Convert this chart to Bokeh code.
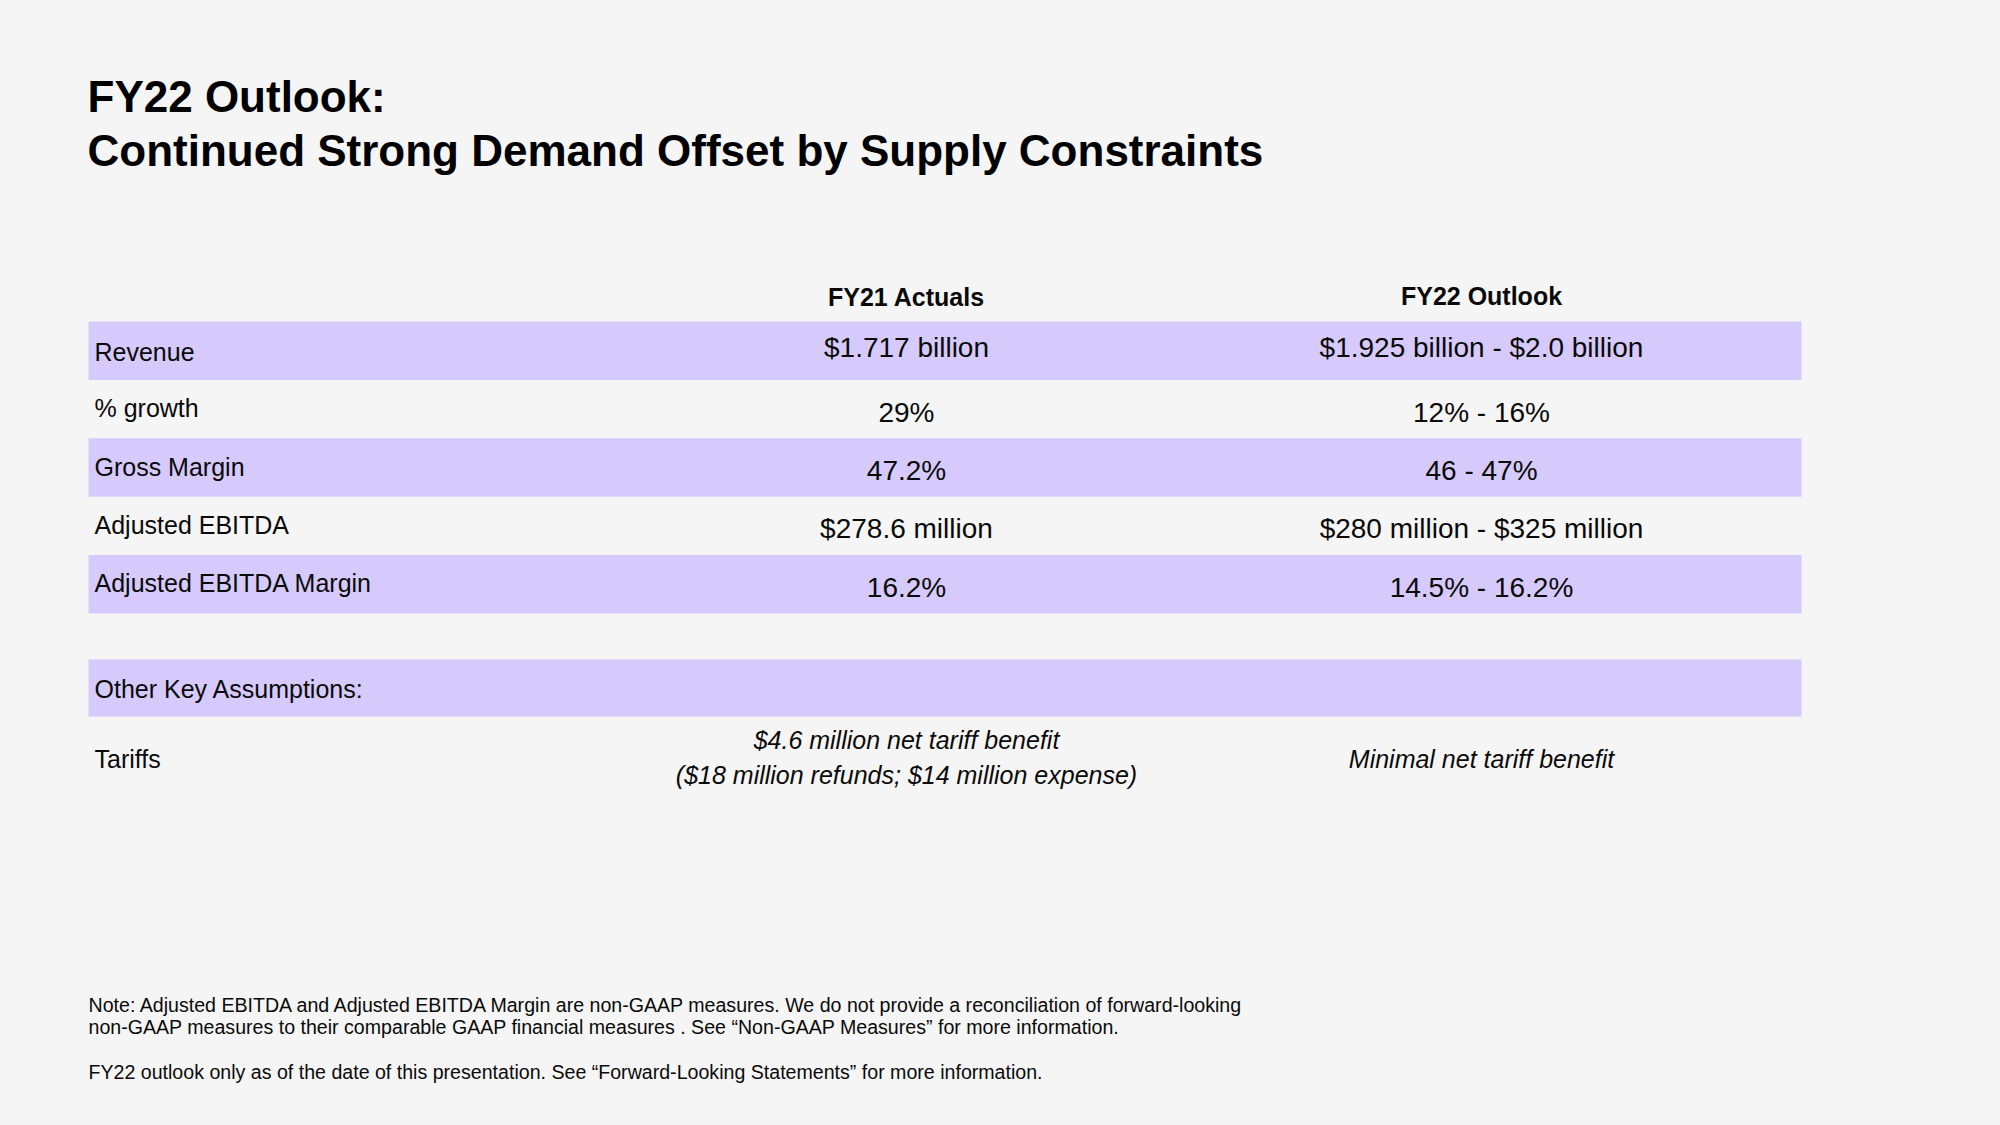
from bokeh.plotting import figure
from bokeh.models import Range1d
from bokeh.core.properties import value
from bokeh.embed import file_html
from bokeh.resources import INLINE

# ---- data ----
title_lines = ["FY22 Outlook:", "Continued Strong Demand Offset by Supply Constraints"]
col_headers = ["FY21 Actuals", "FY22 Outlook"]
row_labels = ["Revenue", "% growth", "Gross Margin", "Adjusted EBITDA", "Adjusted EBITDA Margin"]
fy21_values = ["$1.717 billion", "29%", "47.2%", "$278.6 million", "16.2%"]
fy22_values = ["$1.925 billion - $2.0 billion", "12% - 16%", "46 - 47%",
               "$280 million - $325 million", "14.5% - 16.2%"]
shaded_rows = [True, False, True, False, True]
assump_header = "Other Key Assumptions:"
assump_label = "Tariffs"
assump_fy21 = ["$4.6 million net tariff benefit", "($18 million refunds; $14 million expense)"]
assump_fy22 = ["Minimal net tariff benefit"]
notes = [
    "Note: Adjusted EBITDA and Adjusted EBITDA Margin are non-GAAP measures.  We do not provide a reconciliation of forward-looking",
    "non-GAAP measures to their comparable GAAP financial measures . See \u201cNon-GAAP Measures\u201d for more information.",
    "FY22 outlook  only as of the date of this presentation.  See \u201cForward-Looking Statements\u201d for more information.",
]

# ---- layout ----
W, H = 1984, 1109
BG = "#f5f5f5"
BAND = "#d6cafc"
INK = "#0a0a0a"
FONT = value("Liberation Sans")

p = figure(width=W, height=H, output_backend="svg", toolbar_location=None,
           x_range=Range1d(0, W), y_range=Range1d(H, 0),
           min_border=0, background_fill_color=BG, border_fill_color=BG,
           outline_line_color=None)
p.axis.visible = False
p.grid.visible = False

left, right = 88, 1801
col_x = [906, 1481]
top0, rh = 321, 58.4

# title
p.text(x=[87, 87], y=[96, 150], text=title_lines, text_font=FONT, text_font_size="44px",
       text_font_style="bold", text_color="#000000", text_baseline="middle", text_align="left")

# headers
p.text(x=col_x, y=[296, 295], text=col_headers, text_font=FONT, text_font_size="25px",
       text_font_style="bold", text_color=INK, text_baseline="middle", text_align="center")

# bands
n = len(row_labels)
tops = [top0 + i * rh for i in range(n)]
bt = [t for t, s in zip(tops, shaded_rows) if s]
p.quad(left=[left] * len(bt), right=[right] * len(bt), top=bt, bottom=[t + rh for t in bt],
       fill_color=BAND, line_color=None)
centers = [t + rh / 2 for t in tops]
label_dy = [1, -1, -1, -1, -1]
value_dy = [-3, 3, 3, 3, 3]

p.text(x=[94] * n, y=[c + d for c, d in zip(centers, label_dy)], text=row_labels, text_font=FONT,
       text_font_size="25px", text_color=INK, text_baseline="middle", text_align="left")
p.text(x=[col_x[0]] * n, y=[c + d for c, d in zip(centers, value_dy)], text=fy21_values, text_font=FONT,
       text_font_size="28px", text_color=INK, text_baseline="middle", text_align="center")
p.text(x=[col_x[1]] * n, y=[c + d for c, d in zip(centers, value_dy)], text=fy22_values, text_font=FONT,
       text_font_size="28px", text_color=INK, text_baseline="middle", text_align="center")

# assumptions
p.quad(left=[left], right=[right], top=[659], bottom=[716], fill_color=BAND, line_color=None)
p.text(x=[94], y=[688], text=[assump_header], text_font=FONT, text_font_size="25px",
       text_color=INK, text_baseline="middle", text_align="left")
p.text(x=[94], y=[758], text=[assump_label], text_font=FONT, text_font_size="25px",
       text_color=INK, text_baseline="middle", text_align="left")
p.text(x=[col_x[0]] * 2, y=[739, 774], text=assump_fy21, text_font=FONT, text_font_size="25px",
       text_font_style="italic", text_color=INK, text_baseline="middle", text_align="center")
p.text(x=[col_x[1]], y=[758], text=assump_fy22, text_font=FONT, text_font_size="25px",
       text_font_style="italic", text_color=INK, text_baseline="middle", text_align="center")

# notes
p.text(x=[88] * 3, y=[1004, 1026, 1071], text=notes, text_font=FONT, text_font_size="19.6px",
       text_color=INK, text_baseline="middle", text_align="left")

template = "{% block preamble %}<style>html,body{background-color:#f5f5f5;}</style>{% endblock %}"
open("out.html", "w").write(file_html(p, INLINE, template=template))
